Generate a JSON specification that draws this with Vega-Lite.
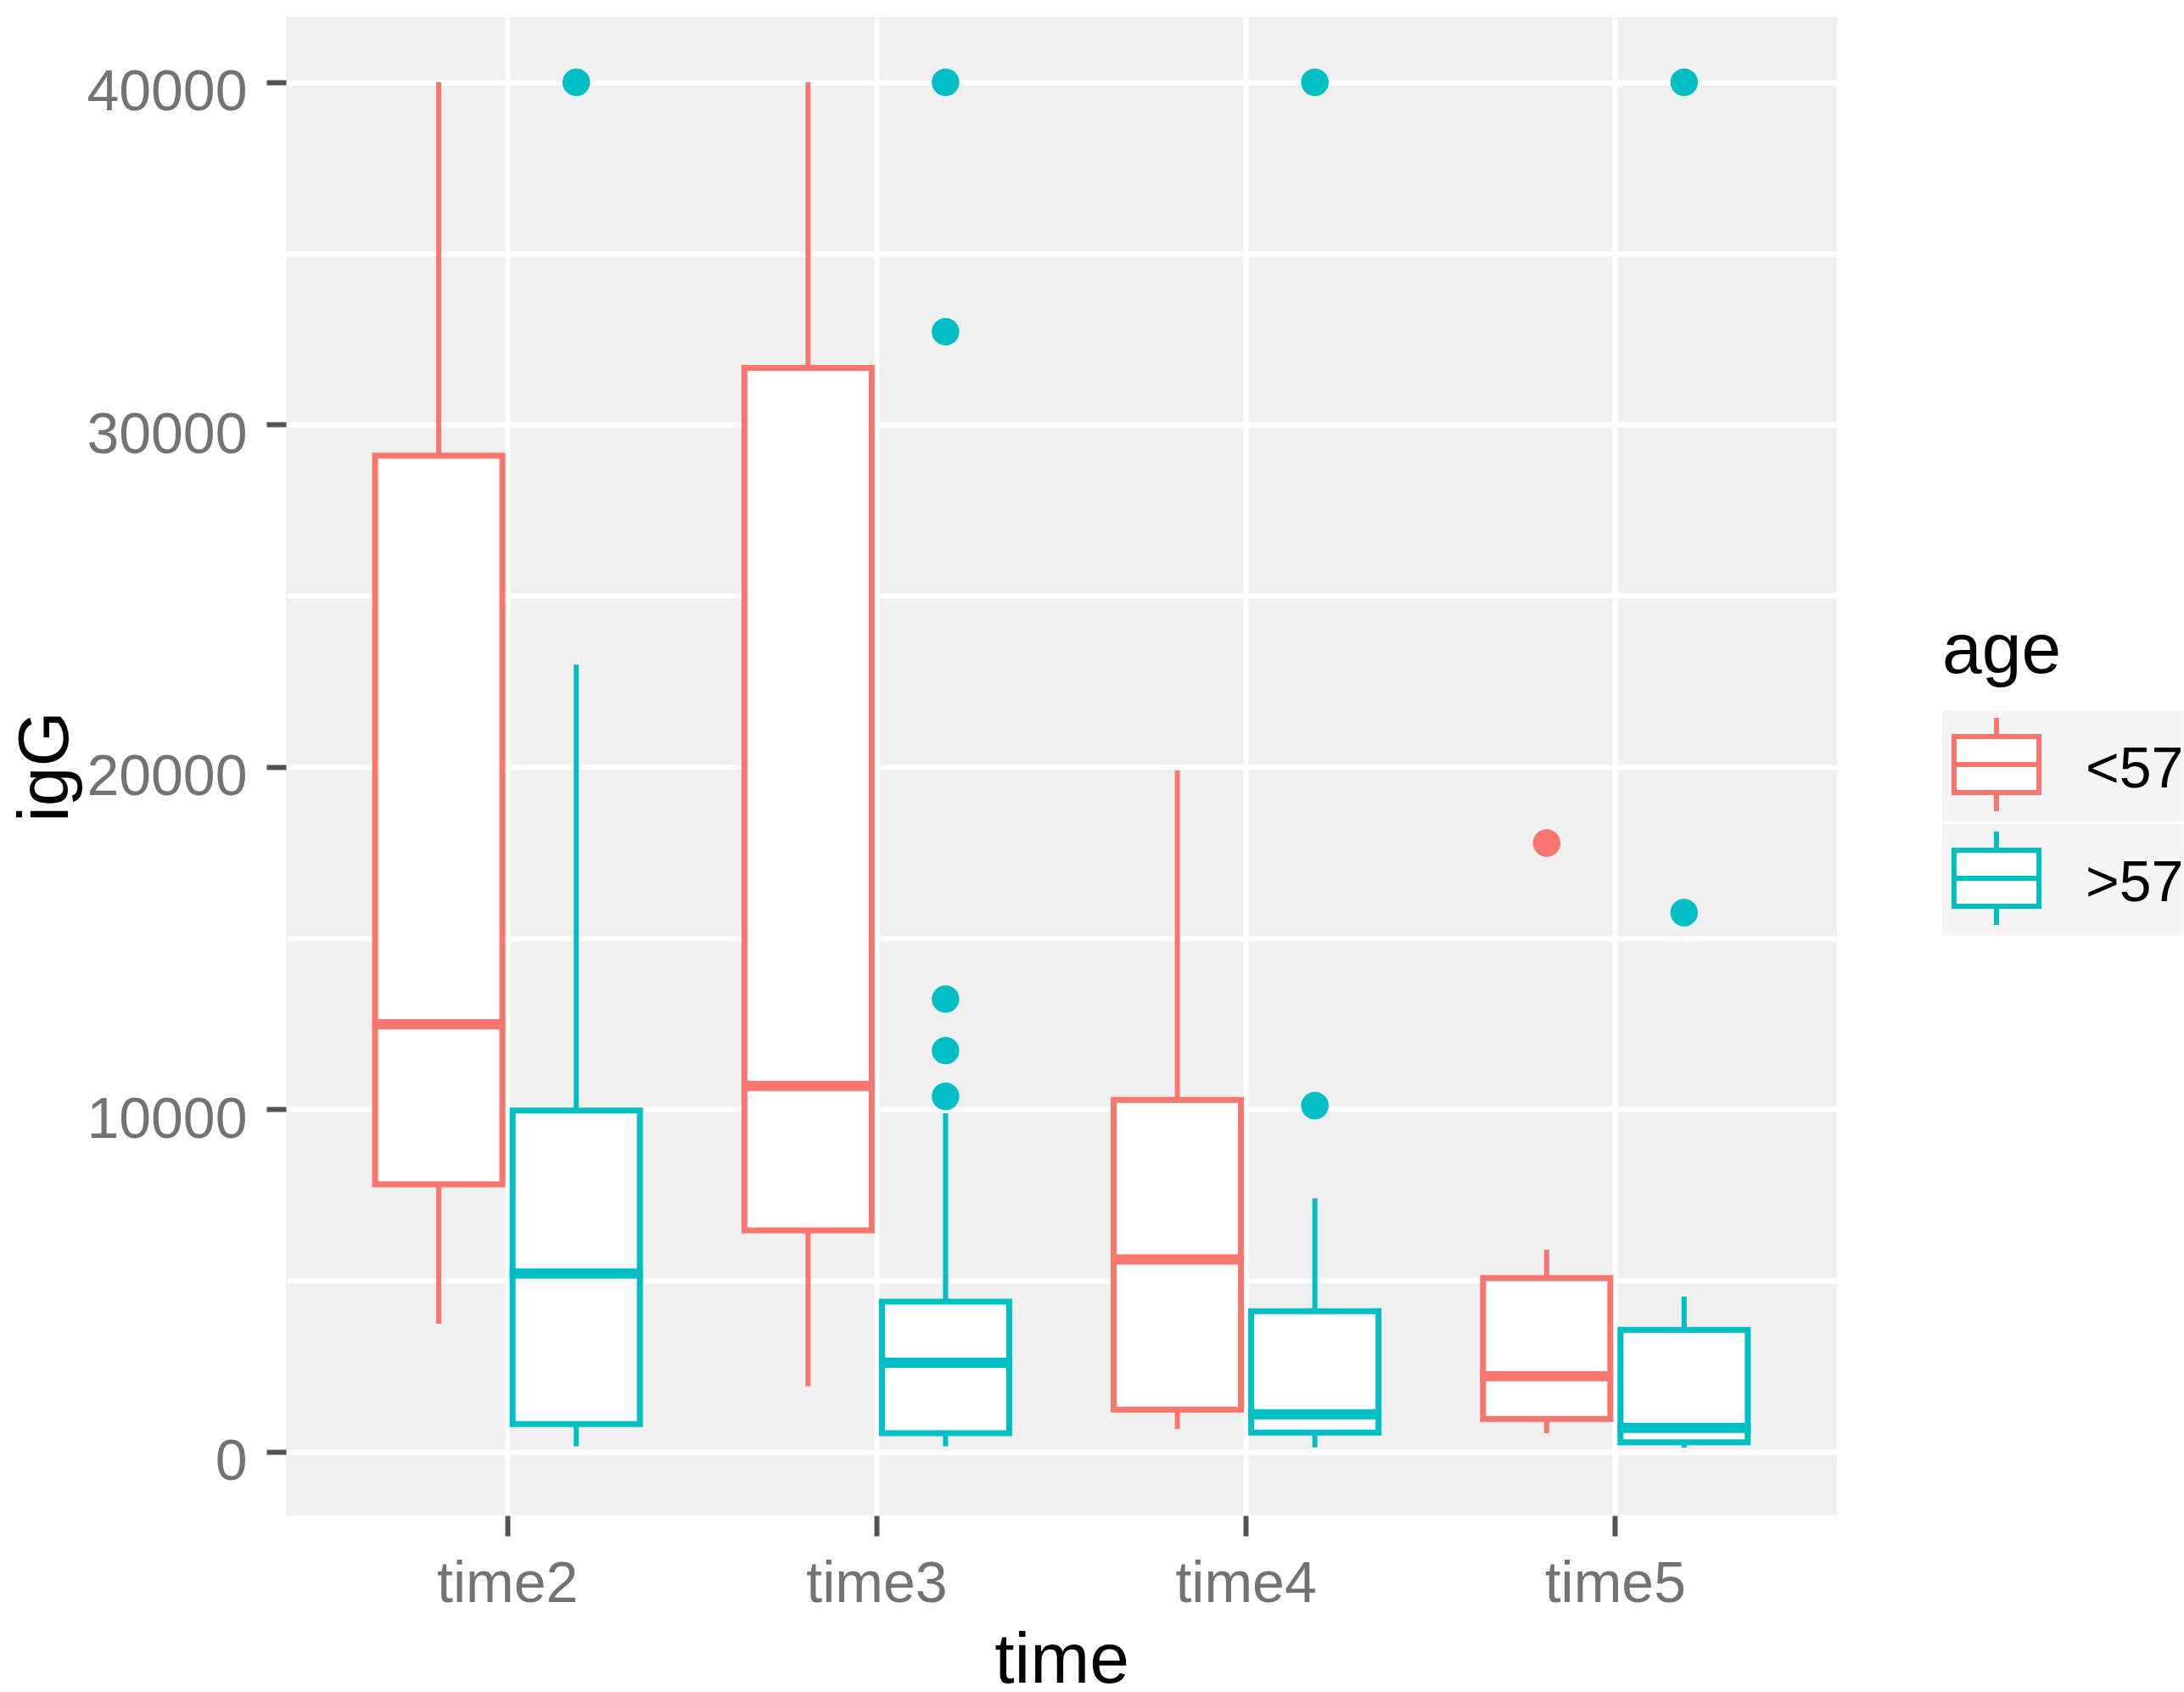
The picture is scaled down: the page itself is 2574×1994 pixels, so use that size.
{
  "$schema": "https://vega.github.io/schema/vega-lite/v6.json",
  "width": 1828,
  "height": 1766,
  "autosize": {"type": "none"},
  "padding": {"left": 337, "top": 20, "right": 409, "bottom": 208},
  "background": "white",
  "config": {
    "font": "Liberation Sans",
    "view": {"fill": "#F0F0F0", "stroke": null},
    "axis": {
      "domain": false,
      "grid": true,
      "gridColor": "white",
      "gridWidth": 6,
      "tickColor": "#525252",
      "tickWidth": 6,
      "labelFont": "Liberation Sans",
      "labelFontSize": 68,
      "labelColor": "#737373",
      "labelLimit": 0,
      "titleFont": "Liberation Sans",
      "titleFontSize": 84,
      "titleFontWeight": "normal",
      "titleColor": "black"
    }
  },
  "datasets": {
    "stats": [
      {"time": "time2", "age": "<57", "lower": 3744, "q1": 7813, "median": 12492, "q3": 29095, "upper": 40000},
      {"time": "time2", "age": ">57", "lower": 163, "q1": 814, "median": 5209, "q3": 9970, "upper": 22991},
      {"time": "time3", "age": "<57", "lower": 1913, "q1": 6468, "median": 10690, "q3": 31658, "upper": 40000},
      {"time": "time3", "age": ">57", "lower": 163, "q1": 545, "median": 2602, "q3": 4387, "upper": 9888},
      {"time": "time4", "age": "<57", "lower": 669, "q1": 1231, "median": 5621, "q3": 10280, "upper": 19898},
      {"time": "time4", "age": ">57", "lower": 131, "q1": 562, "median": 1095, "q3": 4106, "upper": 7403},
      {"time": "time5", "age": "<57", "lower": 545, "q1": 959, "median": 2210, "q3": 5073, "upper": 5898},
      {"time": "time5", "age": ">57", "lower": 124, "q1": 281, "median": 699, "q3": 3564, "upper": 4535}
    ],
    "outliers": [
      {"time": "time2", "age": ">57", "igG": 40000},
      {"time": "time3", "age": ">57", "igG": 40000},
      {"time": "time3", "age": ">57", "igG": 32716},
      {"time": "time3", "age": ">57", "igG": 13225},
      {"time": "time3", "age": ">57", "igG": 11719},
      {"time": "time3", "age": ">57", "igG": 10384},
      {"time": "time4", "age": ">57", "igG": 40000},
      {"time": "time4", "age": ">57", "igG": 10111},
      {"time": "time5", "age": "<57", "igG": 17782},
      {"time": "time5", "age": ">57", "igG": 40000},
      {"time": "time5", "age": ">57", "igG": 15748}
    ]
  },
  "encoding": {
    "x": {
      "field": "time",
      "type": "nominal",
      "scale": {"type": "band", "paddingInner": 0, "paddingOuter": 0.1},
      "axis": {
        "title": "time",
        "bandPosition": 0.5,
        "tickSize": 24,
        "labelAngle": 0,
        "labelBaseline": "alphabetic",
        "labelPadding": 77,
        "titleBaseline": "alphabetic",
        "titleY": 196
      }
    },
    "xOffset": {
      "field": "age",
      "type": "nominal",
      "scale": {"domain": ["<57", ">57"], "paddingInner": 0, "paddingOuter": 0.343}
    }
  },
  "layer": [
    {
      "data": {"name": "stats"},
      "mark": {"type": "rule", "strokeWidth": 6},
      "encoding": {
        "y": {
          "field": "lower",
          "type": "quantitative",
          "scale": {"domain": [-1859, 41908], "nice": false, "zero": false},
          "axis": {
            "title": "igG",
            "values": [0, 5000, 10000, 15000, 20000, 25000, 30000, 35000, 40000],
            "format": "d",
            "labelExpr": "datum.value % 10000 === 0 ? datum.label : ''",
            "tickOpacity": {"condition": {"test": "datum.value % 10000 !== 0", "value": 0}, "value": 1},
            "tickSize": 23,
            "labelPadding": 23,
            "labelBaseline": "middle",
            "labelOffset": 13,
            "labelOverlap": false,
            "titleBaseline": "alphabetic",
            "titleX": -258
          }
        },
        "y2": {"field": "upper"},
        "stroke": {
          "field": "age",
          "type": "nominal",
          "scale": {"domain": ["<57", ">57"], "range": ["#F8766D", "#00BFC4"]},
          "legend": {
            "title": "age",
            "orient": "none",
            "legendX": 1952,
            "legendY": 707,
            "padding": 0,
            "rowPadding": 0,
            "titleFontSize": 84,
            "titleFontWeight": "normal",
            "titleColor": "black",
            "titlePadding": 26,
            "labelFontSize": 68,
            "labelColor": "black",
            "labelLimit": 0,
            "symbolType": "M-0.91,-0.6H0.91V0.6H-0.91Z M-0.91,0H0.91 M0,-0.6V-1 M0,0.6V1",
            "symbolSize": 12100,
            "symbolStrokeWidth": 6,
            "encode": {
              "entries": {"update": {"width": {"value": 128}, "height": {"value": 128}, "fill": {"value": "#F5F5F5"}}},
              "symbols": {"update": {"x": {"value": 64}, "y": {"value": 64}}},
              "labels": {"update": {"x": {"value": 169}, "y": {"value": 71}, "baseline": {"value": "middle"}, "align": {"value": "left"}}}
            }
          }
        }
      }
    },
    {
      "data": {"name": "stats"},
      "mark": {"type": "bar", "strokeWidth": 7, "width": 150},
      "encoding": {
        "y": {"field": "q1", "type": "quantitative"},
        "y2": {"field": "q3"},
        "stroke": {"field": "age", "type": "nominal"},
        "fill": {
          "field": "age",
          "type": "nominal",
          "scale": {"domain": ["<57", ">57"], "range": ["white", "white"]}
        }
      }
    },
    {
      "data": {"name": "stats"},
      "mark": {"type": "tick", "orient": "horizontal", "size": 157, "thickness": 12, "opacity": 1},
      "encoding": {
        "y": {"field": "median", "type": "quantitative"},
        "color": {
          "field": "age",
          "type": "nominal",
          "scale": {"domain": ["<57", ">57"], "range": ["#F8766D", "#00BFC4"]},
          "legend": null
        }
      }
    },
    {
      "data": {"name": "outliers"},
      "mark": {"type": "circle", "size": 1050, "opacity": 1},
      "encoding": {
        "y": {"field": "igG", "type": "quantitative"},
        "color": {"field": "age", "type": "nominal", "legend": null}
      }
    }
  ]
}
